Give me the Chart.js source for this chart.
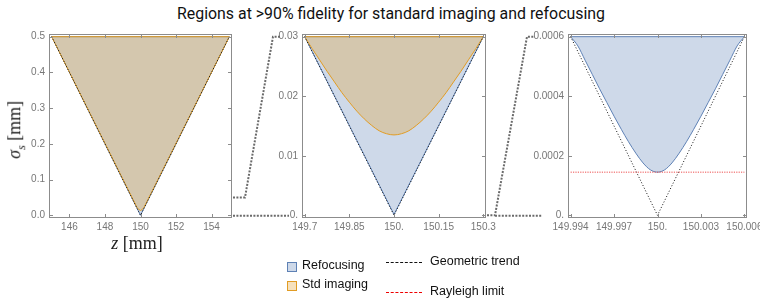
<!DOCTYPE html>
<html><head><meta charset="utf-8">
<script src="https://cdn.jsdelivr.net/npm/chart.js@4.4.1/dist/chart.umd.min.js"></script>
<style>
html,body{margin:0;padding:0;background:#fff;width:760px;height:304px;overflow:hidden;position:relative}
canvas{position:absolute;left:0;top:0}
.t{position:absolute;white-space:nowrap;line-height:1}
#title{font-family:"Liberation Sans Narrow","Roboto","Liberation Sans",sans-serif;font-size:17px;color:#111;transform-origin:0 0}
.ax{font-family:"Liberation Serif","DejaVu Serif",serif;font-size:18px;color:#222}
.lg{font-family:"Liberation Sans",Arial,sans-serif;font-size:12.5px;color:#111}
.sq{position:absolute;width:8px;height:8px}
.dash{position:absolute;height:0;width:36px}
</style></head><body>
<div id="title" class="t">Regions at &gt;90% fidelity for standard imaging and refocusing</div>
<canvas id="c1" width="760" height="304"></canvas>
<canvas id="c2" width="760" height="304"></canvas>
<canvas id="c3" width="760" height="304"></canvas>
<div id="ylab" class="t ax"><i>σ</i><sub style="font-size:12px"><i>s</i></sub> [mm]</div>
<div id="xlab" class="t ax"><i>z</i> [mm]</div>
<div class="sq" style="left:287px;top:262px;background:rgba(94,129,181,0.3);border:1px solid #5E81B5"></div>
<div class="t lg" style="left:302px;top:259px">Refocusing</div>
<div class="sq" style="left:287px;top:281px;background:rgba(225,156,36,0.3);border:1px solid #E19C24"></div>
<div class="t lg" style="left:302px;top:278px">Std imaging</div>
<div class="dash" style="left:386px;top:262px;border-top:1.5px dashed #111"></div>
<div class="t lg" style="left:430px;top:255px">Geometric trend</div>
<div class="dash" style="left:386px;top:292px;border-top:1.5px dashed #e00"></div>
<div class="t lg" style="left:430px;top:285px">Rayleigh limit</div>
<script>
// ---------- tick values / labels ----------
const p1XTicks = [146, 148, 150, 152, 154];
const p1XLabels = ['146', '148', '150', '152', '154'];
const p1YTicks = [0, 0.1, 0.2, 0.3, 0.4, 0.5];
const p1YLabels = ['0.0', '0.1', '0.2', '0.3', '0.4', '0.5'];
const p2XTicks = [149.7, 149.85, 150, 150.15, 150.3];
const p2XLabels = ['149.7', '149.85', '150.', '150.15', '150.3'];
const p2YTicks = [0, 0.01, 0.02, 0.03];
const p2YLabels = ['0.', '0.01', '0.02', '0.03'];
const p3XTicks = [149.994, 149.997, 150, 150.003, 150.006];
const p3XLabels = ['149.994', '149.997', '150.', '150.003', '150.006'];
const p3YTicks = [0, 0.0002, 0.0004, 0.0006];
const p3YLabels = ['0.', '0.0002', '0.0004', '0.0006'];

// ---------- series (z in mm, sigma_s in mm) ----------
// panel 1 (wide view)
const p1RefocusZ = [145, 150, 155];
const p1RefocusS = [0.5, 0.00015, 0.5];
const p1StdZ = [145, 149.8, 149.9, 150, 150.1, 150.2, 155];
const p1StdS = [0.5, 0.0224, 0.0162, 0.0135, 0.0162, 0.0224, 0.5];
const p1GeoZ = [145, 150, 155];
const p1GeoS = [0.5, 0, 0.5];
// panel 2 (zoom 1)
const p2RefocusZ = [149.7, 150, 150.3];
const p2RefocusS = [0.03, 0.00015, 0.03];
const p2StdZ = [149.7, 149.725, 149.75, 149.775, 149.8, 149.825, 149.85, 149.875, 149.9, 149.925, 149.95, 149.975, 150,
                150.025, 150.05, 150.075, 150.1, 150.125, 150.15, 150.175, 150.2, 150.225, 150.25, 150.275, 150.3];
const p2StdS = [0.030, 0.0280, 0.0261, 0.0242, 0.0224, 0.0206, 0.0190, 0.0175, 0.0162, 0.0151, 0.0142, 0.0137, 0.0135,
                0.0137, 0.0142, 0.0151, 0.0162, 0.0175, 0.0190, 0.0206, 0.0224, 0.0242, 0.0261, 0.0280, 0.030];
const p2GeoZ = [149.7, 150, 150.3];
const p2GeoS = [0.03, 0, 0.03];
// panel 3 (zoom 2)
const p3RefocusZ = [149.994, 149.9945, 149.995, 149.9955, 149.996, 149.9965, 149.997, 149.9975, 149.998, 149.9985, 149.999, 149.9995, 150,
                    150.0005, 150.001, 150.0015, 150.002, 150.0025, 150.003, 150.0035, 150.004, 150.0045, 150.005, 150.0055, 150.006];
const p3RefocusS = [0.0006, 0.000569, 0.000521, 0.000473, 0.000425, 0.000379, 0.000333, 0.000289, 0.000247, 0.000209, 0.000176, 0.000153, 0.000145,
                    0.000153, 0.000176, 0.000209, 0.000247, 0.000289, 0.000333, 0.000379, 0.000425, 0.000473, 0.000521, 0.000569, 0.0006];
const p3GeoZ = [149.994, 150, 150.006];
const p3GeoS = [0.0006, 0, 0.0006];
const p3RayleighZ = [149.994, 150.006];
const p3RayleighS = [0.000145, 0.000145];

// ---------- styling ----------
const BLUE = '#5E81B5', BLUE_F = 'rgba(94,129,181,0.3)';
const ORANGE = '#E19C24', ORANGE_F = 'rgba(225,156,36,0.3)';
const W = 760, H = 304;
const TICKFONT = {family: '"Liberation Sans", Arial, sans-serif', size: 10};
const TICKCOL = '#777';

const pts = (zs, ss) => zs.map((z, i) => ({x: z, y: ss[i]}));
const topEdge = (zs, ss) => [{x: zs[0], y: ss[0]}, {x: zs[zs.length - 1], y: ss[ss.length - 1]}];

function regionSets(refZ, refS, stdZ, stdS, curvedRef, curvedStd) {
  const top = refS[0];
  const sets = [];
  if (stdZ) {
    sets.push({data: topEdge(stdZ, stdS), borderColor: ORANGE, borderWidth: 1, fill: false, pointRadius: 0, tension: 0});
    sets.push({data: pts(stdZ, stdS), borderColor: ORANGE, borderWidth: 1, backgroundColor: ORANGE_F,
      fill: {value: stdS[0]}, pointRadius: 0, cubicInterpolationMode: curvedStd ? 'monotone' : 'default', tension: 0});
  }
  sets.push({data: topEdge(refZ, refS), borderColor: BLUE, borderWidth: 1, fill: false, pointRadius: 0, tension: 0});
  sets.push({data: pts(refZ, refS), borderColor: BLUE, borderWidth: 1, backgroundColor: BLUE_F,
    fill: {value: top}, pointRadius: 0, cubicInterpolationMode: curvedRef ? 'monotone' : 'default', tension: 0});
  return sets;
}

const framePlugin = {
  id: 'frame',
  afterDraw(chart) {
    const {ctx, chartArea: a, scales} = chart;
    ctx.save();
    ctx.strokeStyle = '#8c8c8c';
    ctx.lineWidth = 1;
    ctx.strokeRect(Math.round(a.left) + 0.5, Math.round(a.top) + 0.5, Math.round(a.right - a.left) - 1, Math.round(a.bottom - a.top) - 1);
    ctx.beginPath();
    scales.x.ticks.forEach(t => {
      const x = Math.round(scales.x.getPixelForValue(t.value)) + 0.5;
      ctx.moveTo(x, a.bottom); ctx.lineTo(x, a.bottom - 4);
      ctx.moveTo(x, a.top); ctx.lineTo(x, a.top + 4);
    });
    scales.y.ticks.forEach(t => {
      const y = Math.round(scales.y.getPixelForValue(t.value)) + 0.5;
      ctx.moveTo(a.left, y); ctx.lineTo(a.left + 4, y);
      ctx.moveTo(a.right, y); ctx.lineTo(a.right - 4, y);
    });
    ctx.stroke();
    ctx.restore();
  }
};

function makeChart(id, frame, xr, yr, xt, xl, yt, yl, datasets, extraPlugins) {
  return new Chart(document.getElementById(id), {
    type: 'line',
    data: {datasets},
    options: {
      responsive: false, animation: false, devicePixelRatio: 1,
      layout: {padding: {left: frame.l - 44, right: W - frame.r, top: frame.t, bottom: H - frame.b - 22}},
      plugins: {legend: {display: false}, title: {display: false}, tooltip: {enabled: false}},
      events: [],
      scales: {
        x: {
          type: 'linear', min: xr[0], max: xr[1],
          grid: {display: false, drawTicks: false}, border: {display: false},
          afterBuildTicks: s => { s.ticks = xt.map(v => ({value: v})); },
          afterFit: s => { s.height = 22; s.paddingLeft = 0; s.paddingRight = 0; },
          ticks: {callback: (v, i) => xl[i], font: TICKFONT, color: TICKCOL, padding: 3, maxRotation: 0, autoSkip: false}
        },
        y: {
          type: 'linear', min: yr[0], max: yr[1],
          grid: {display: false, drawTicks: false}, border: {display: false},
          afterBuildTicks: s => { s.ticks = yt.map(v => ({value: v})); },
          afterFit: s => { s.width = 44; s.paddingTop = 0; s.paddingBottom = 0; },
          ticks: {callback: (v, i) => yl[i], font: TICKFONT, color: TICKCOL, padding: 4, autoSkip: false}
        }
      }
    },
    plugins: [framePlugin].concat(extraPlugins || [])
  });
}

const geoSet = (zs, ss) => ({data: pts(zs, ss), borderColor: '#111', borderWidth: 1, borderDash: [1, 2], fill: false, pointRadius: 0, tension: 0});

const F1 = {l: 49, r: 232, t: 34, b: 218};
const F2 = {l: 302, r: 486, t: 34, b: 218};
const F3 = {l: 568, r: 747, t: 34, b: 218};

const ch1 = makeChart('c1', F1, [144.85, 155.15], [-0.0075, 0.5075], p1XTicks, p1XLabels, p1YTicks, p1YLabels,
  [geoSet(p1GeoZ, p1GeoS)].concat(regionSets(p1RefocusZ, p1RefocusS, p1StdZ, p1StdS, false, false)));
const ch2 = makeChart('c2', F2, [149.691, 150.309], [-0.00045, 0.03045], p2XTicks, p2XLabels, p2YTicks, p2YLabels,
  [geoSet(p2GeoZ, p2GeoS)].concat(regionSets(p2RefocusZ, p2RefocusS, p2StdZ, p2StdS, false, true)));

const connectorPlugin = {
  id: 'connectors',
  afterDraw(chart) {
    const ctx = chart.ctx;
    const a1 = ch1.chartArea, a2 = ch2.chartArea, a3 = chart.chartArea;
    const y1z = ch1.scales.y.getPixelForValue(0), y1u = ch1.scales.y.getPixelForValue(0.05);
    const y2top = ch2.scales.y.getPixelForValue(0.03), y2z = ch2.scales.y.getPixelForValue(0);
    const y3top = chart.scales.y.getPixelForValue(0.0006);
    ctx.save();
    ctx.strokeStyle = '#6a6a6a';
    ctx.lineWidth = 2;
    ctx.setLineDash([2, 1.4]);
    ctx.beginPath();
    ctx.moveTo(a1.right + 1, y1u); ctx.lineTo(a1.right + 13, y1u); ctx.lineTo(a2.left - 29, y2top); ctx.lineTo(a2.left - 21, y2top);
    ctx.moveTo(a1.right + 1, y1z + 0.5); ctx.lineTo(a2.left - 13, y1z + 0.5);
    ctx.moveTo(a2.right + 1, y2z); ctx.lineTo(a2.right + 9, y2z); ctx.lineTo(a3.left - 41, y3top); ctx.lineTo(a3.left - 33, y3top);
    ctx.moveTo(a2.right + 9, y2z + 0.5); ctx.lineTo(a3.left - 26, y2z + 0.5);
    ctx.stroke();
    ctx.restore();
  }
};

const ch3 = makeChart('c3', F3, [149.99382, 150.00618], [-0.000009, 0.000609], p3XTicks, p3XLabels, p3YTicks, p3YLabels,
  [{data: pts(p3RayleighZ, p3RayleighS), borderColor: 'rgba(235,60,60,0.6)', borderWidth: 1.5, borderDash: [1.2, 1.2], fill: false, pointRadius: 0, tension: 0},
   geoSet(p3GeoZ, p3GeoS)].concat(regionSets(p3RefocusZ, p3RefocusS, null, null, true, false)),
  [connectorPlugin]);

// text placement
const title = document.getElementById('title');
const tw = title.getBoundingClientRect().width;
title.style.left = (391 - 214) + 'px';
title.style.top = '5px';
title.style.transform = 'scaleX(' + (428 / tw) + ')';
const yl = document.getElementById('ylab');
const yr = yl.getBoundingClientRect();
yl.style.left = (16.5 - yr.width / 2) + 'px';
yl.style.top = (130 - yr.height / 2) + 'px';
yl.style.transform = 'rotate(-90deg)';
const xlab = document.getElementById('xlab');
const xr = xlab.getBoundingClientRect();
xlab.style.left = (137 - xr.width / 2) + 'px';
xlab.style.top = (243 - xr.height / 2) + 'px';
</script>
</body></html>
